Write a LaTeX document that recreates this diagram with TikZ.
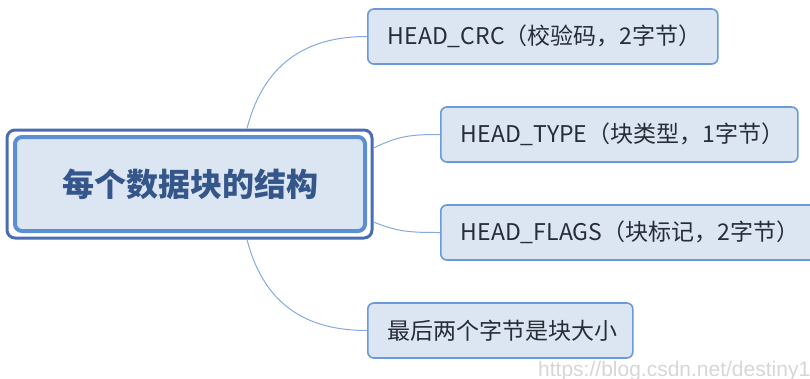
\documentclass[tikz,border=0pt]{standalone}
\usepackage{fontspec}
\setmainfont{Noto Sans CJK SC}
\newfontfamily\wmfont{Liberation Sans}
\usetikzlibrary{calc}
\definecolor{boxfill}{HTML}{DCE6F2}
\definecolor{boxline}{HTML}{6A9AD8}
\definecolor{rootline}{HTML}{5A8FD4}
\definecolor{frameline}{HTML}{4A6BB5}
\definecolor{roottext}{HTML}{34568A}
\definecolor{leaftext}{HTML}{262C38}
\definecolor{linkcol}{HTML}{86AADB}
\tikzset{
  leaf/.style={rectangle, rounded corners=6pt, draw=boxline, line width=1.6pt, fill=boxfill,
    minimum height=55pt, inner xsep=20pt, inner ysep=0pt, anchor=west, align=left,
    text=leaftext, font=\fontsize{23}{27}\selectfont},
  rootbox/.style={rectangle, rounded corners=7pt, draw=rootline, line width=4pt, fill=boxfill,
    minimum width=350pt, minimum height=94pt, text=roottext,
    font=\bfseries\fontsize{32}{36}\selectfont},
  rootframe/.style={rectangle, rounded corners=8pt, draw=frameline, line width=3pt,
    minimum width=365pt, minimum height=108pt},
  link/.style={draw=linkcol, line width=1pt}
}
\begin{document}
\begin{tikzpicture}[x=1pt,y=-1pt]
\useasboundingbox (0,0) rectangle (810,378);
\node[rootframe] (frame) at (189.5,184) {};
\node[rootbox] (root) at (190,184) {每个数据块的结构};
\node[leaf, text width=310pt] (crc) at (367,36.5) {HEAD\_CRC（校验码，2字节）};
\node[leaf, text width=317pt] (type) at (440,134.5) {HEAD\_TYPE（块类型，1字节）};
\node[leaf, text width=335pt] (flags) at (440,232.5) {HEAD\_FLAGS（块标记，2字节）};
\node[leaf, text width=225pt] (size) at (367,330.5) {最后两个字节是块大小};
\draw[link] ($(frame.north)+(57.5,0)$) .. controls +(18,-70) and +(-55,0) .. (crc.west);
\draw[link] ($(frame.east)+(0,-36)$) .. controls +(25,-12) and +(-30,0) .. (type.west);
\draw[link] ($(frame.east)+(0,38)$) .. controls +(25,10) and +(-30,0) .. (flags.west);
\draw[link] ($(frame.south)+(57.5,0)$) .. controls +(18,70) and +(-55,0) .. (size.west);
\node[anchor=base west, text=black!16, font=\wmfont\fontsize{21}{23}\selectfont, inner sep=0pt] (wm) at (538,376) {https://blog.csdn.net/destiny1};
\end{tikzpicture}
\end{document}
